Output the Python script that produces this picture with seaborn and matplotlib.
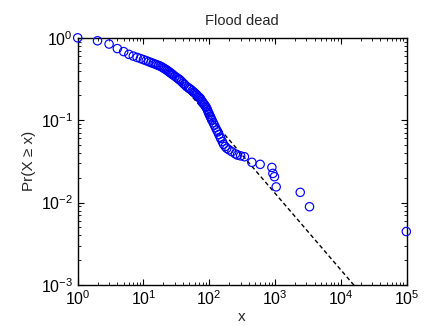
import numpy as np
import pandas as pd
import matplotlib
matplotlib.use("Agg")
import matplotlib.pyplot as plt
import seaborn as sns
from matplotlib.ticker import LogLocator, NullFormatter

deaths = [1, 2, 3, 4, 5, 6, 7, 8, 9, 10, 11, 12, 13, 14, 15, 16, 17, 18, 19, 20,
          21, 22, 23, 24, 25, 26, 27, 28, 30, 32, 34, 35, 36, 38, 40, 42, 45, 48,
          50, 52, 55, 58, 60, 63, 65, 68, 70, 73, 75, 78, 80, 83, 85, 88, 90, 93,
          95, 98, 100, 103, 105, 108, 110, 115, 120, 125, 130, 135, 140, 147, 150,
          158, 165, 175, 185, 200, 221, 250, 269, 300, 343, 445, 595, 897, 929,
          982, 1043, 2420, 3350, 99300]
ccdf = [1.0, 0.92, 0.84, 0.74, 0.68, 0.63, 0.60, 0.578, 0.56, 0.543, 0.528, 0.514,
        0.501, 0.490, 0.480, 0.470, 0.461, 0.453, 0.442, 0.431, 0.421, 0.411, 0.402,
        0.392, 0.382, 0.373, 0.365, 0.356, 0.342, 0.329, 0.318, 0.312, 0.307, 0.294,
        0.282, 0.272, 0.257, 0.248, 0.242, 0.237, 0.228, 0.220, 0.214, 0.207, 0.201,
        0.194, 0.190, 0.184, 0.177, 0.169, 0.164, 0.157, 0.153, 0.147, 0.143, 0.136,
        0.130, 0.123, 0.118, 0.112, 0.109, 0.103, 0.100, 0.093, 0.087, 0.081, 0.076,
        0.072, 0.067, 0.062, 0.060, 0.055, 0.051, 0.048, 0.0455, 0.0437, 0.0414,
        0.039, 0.0377, 0.0369, 0.036, 0.0308, 0.0291, 0.0267, 0.0226, 0.0206,
        0.0155, 0.0133, 0.0089, 0.00445]

# Power-law fit parameters
x_min = 35.2
p_at_xmin = 0.292
alpha = 1.93
fit_x = [x_min, 1e5]

df = pd.DataFrame({"x": deaths, "p": ccdf})
fit_df = pd.DataFrame({"x": fit_x,
                       "p": [p_at_xmin * (v / x_min) ** (1 - alpha) for v in fit_x]})

sns.set_style("white")
plt.rcParams["font.family"] = ["Liberation Sans", "DejaVu Sans"]

fig = plt.figure(figsize=(4.27, 3.26), dpi=100)
ax = fig.add_axes([0.182, 0.126, 0.770, 0.758])

sns.lineplot(data=fit_df, x="x", y="p", ax=ax, color="black", linewidth=1.0,
             linestyle=(0, (3, 2)), sort=True, estimator=None)
sns.scatterplot(data=df, x="x", y="p", ax=ax, marker="o", s=36,
                facecolors="none", edgecolor="#0000ff", linewidth=0.85,
                zorder=3, clip_on=False)

ax.set_xscale("log")
ax.set_yscale("log")
ax.set_xlim(1, 1e5)
ax.set_ylim(1e-3, 1)

ax.xaxis.set_major_locator(LogLocator(base=10, numticks=10))
ax.yaxis.set_major_locator(LogLocator(base=10, numticks=10))
ax.xaxis.set_minor_locator(LogLocator(base=10, subs=np.arange(2, 10), numticks=20))
ax.yaxis.set_minor_locator(LogLocator(base=10, subs=np.arange(2, 10), numticks=20))
ax.xaxis.set_minor_formatter(NullFormatter())
ax.yaxis.set_minor_formatter(NullFormatter())

ax.tick_params(which="both", direction="in", top=True, right=True,
               bottom=True, left=True, colors="black", labelsize=11.5)
ax.tick_params(which="major", length=4, width=0.8)
ax.tick_params(which="minor", length=2, width=0.6)
for sp in ax.spines.values():
    sp.set_visible(True)
    sp.set_color("black")
    sp.set_linewidth(1.0)

ax.set_title("Flood dead", fontsize=10.5, pad=9)
ax.set_xlabel("x", fontsize=11, labelpad=1)
ax.set_ylabel("Pr(X \u2265 x)", fontsize=11, labelpad=3)

fig.savefig("out.png", dpi=100)
